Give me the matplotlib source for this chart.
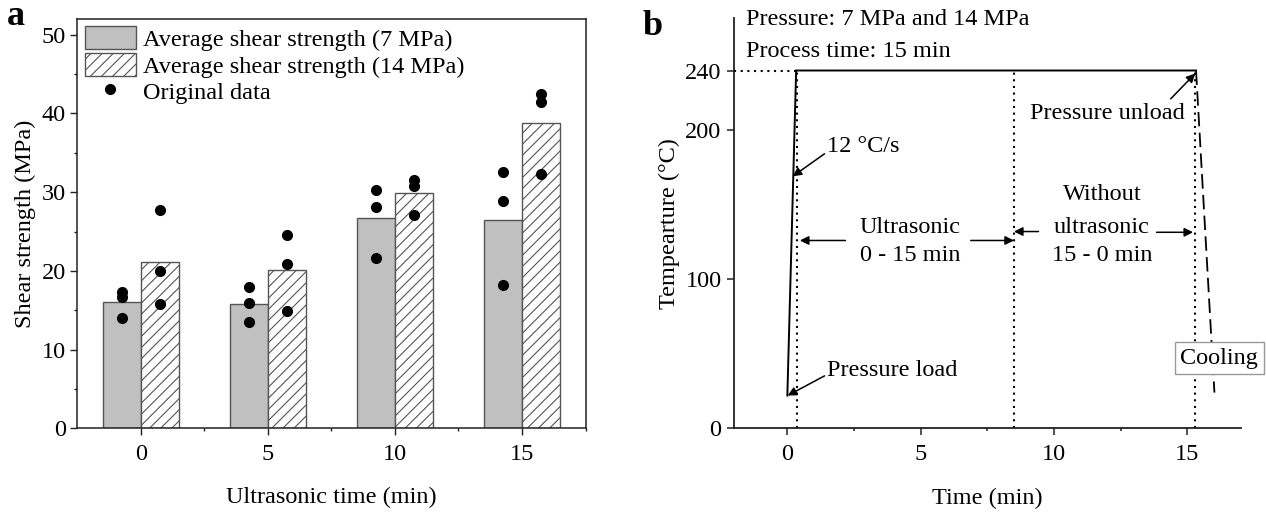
import matplotlib
matplotlib.use("Agg")
import matplotlib.pyplot as plt
import numpy as np
from matplotlib.ticker import MultipleLocator, FixedLocator
from matplotlib.patches import Patch
from matplotlib.lines import Line2D

plt.rcParams["font.family"] = ["Liberation Serif", "DejaVu Serif"]
plt.rcParams["hatch.linewidth"] = 0.8
plt.rcParams["hatch.color"] = "#555555"

FS = 17.5

# ---- panel a data: shear strength vs ultrasonic time ----
ultrasonic_time = [0, 5, 10, 15]
avg_7mpa = [16.0, 15.8, 26.7, 26.5]
avg_14mpa = [21.1, 20.1, 29.9, 38.8]
raw_7mpa = [[17.3, 16.7, 14.0], [17.9, 15.9, 13.5], [30.3, 28.1, 21.7], [32.5, 28.9, 18.2]]
raw_14mpa = [[27.7, 20.0, 15.8], [24.5, 20.9, 14.9], [31.5, 30.8, 27.1], [42.5, 41.5, 32.3]]

# ---- panel b data: temperature profile ----
profile_time = [0.0, 0.33, 15.33]
profile_temp = [22, 240, 240]
cooling_time = [15.33, 16.02]
cooling_temp = [240, 24]
stage_marks = [0.38, 8.5, 15.31]
hold_temp = 240

fig = plt.figure(figsize=(12.66, 5.13), dpi=100)

# ================= panel a =================
axa = fig.add_axes([0.061, 0.165, 0.4015, 0.798])
x = np.array(ultrasonic_time, dtype=float)
off = 0.75
axa.bar(x - off, avg_7mpa, width=1.5, color="#c0c0c0", edgecolor="#555555", lw=1.0, zorder=2)
axa.bar(x + off, avg_14mpa, width=1.5, color="white", edgecolor="#555555", hatch="///", lw=1.0, zorder=2)
for xi, r7, r14 in zip(x, raw_7mpa, raw_14mpa):
    axa.plot([xi - off] * len(r7), r7, "o", color="black", ms=7, zorder=3, clip_on=False)
    axa.plot([xi + off] * len(r14), r14, "o", color="black", ms=7, zorder=3, clip_on=False)

axa.set_xlim(-2.5, 17.5)
axa.set_ylim(0, 52)
axa.xaxis.set_major_locator(FixedLocator([0, 5, 10, 15]))
axa.xaxis.set_minor_locator(FixedLocator([2.5, 7.5, 12.5, 17.5]))
axa.yaxis.set_major_locator(MultipleLocator(10))
axa.yaxis.set_minor_locator(MultipleLocator(5))
axa.tick_params(which="both", direction="out", top=False, right=False, width=1.0, colors="#222222", labelcolor="black")
axa.tick_params(which="major", length=5, labelsize=FS)
axa.tick_params(which="minor", length=2.5)
axa.tick_params(axis="x", pad=6)
axa.tick_params(axis="y", pad=3)
for s in axa.spines.values():
    s.set_linewidth(1.1)
    s.set_color("#222222")
axa.set_xlabel("Ultrasonic time (min)", fontsize=FS, labelpad=16)
axa.set_ylabel("Shear strength (MPa)", fontsize=FS, labelpad=4)

handles = [
    Patch(facecolor="#c0c0c0", edgecolor="#555555", lw=1.0),
    Patch(facecolor="white", edgecolor="#555555", hatch="///", lw=1.0),
    Line2D([], [], marker="o", ls="none", color="black", ms=7),
]
labels = ["Average shear strength (7 MPa)", "Average shear strength (14 MPa)", "Original data"]
axa.legend(handles, labels, loc="upper left", frameon=False, fontsize=FS,
           handlelength=2.1, handleheight=1.07, labelspacing=0.08,
           handletextpad=0.3, borderpad=0.0, borderaxespad=0.3)

# ================= panel b =================
axb = fig.add_axes([0.5798, 0.165, 0.4001, 0.7993])
axb.plot(profile_time, profile_temp, color="black", lw=1.4, solid_joinstyle="miter")
axb.plot(cooling_time, cooling_temp, color="black", lw=1.3, ls=(0, (8, 3.5)))
dot = (0, (1, 2.2))
for xm in stage_marks:
    axb.plot([xm, xm], [0, hold_temp], color="black", lw=1.5, ls=dot)
axb.plot([-2, profile_time[1]], [hold_temp, hold_temp], color="black", lw=1.5, ls=dot, clip_on=False)

axb.set_xlim(-2, 17)
axb.set_ylim(0, 275)
axb.xaxis.set_major_locator(FixedLocator([0, 5, 10, 15]))
axb.xaxis.set_minor_locator(FixedLocator([2.5, 7.5, 12.5]))
axb.yaxis.set_major_locator(FixedLocator([0, 100, 200, 240]))
axb.spines["top"].set_visible(False)
axb.spines["right"].set_visible(False)
for s in ("left", "bottom"):
    axb.spines[s].set_linewidth(1.3)
    axb.spines[s].set_color("#222222")
axb.tick_params(which="both", direction="out", width=1.1, colors="#222222", labelcolor="black")
axb.tick_params(which="major", length=5, labelsize=FS)
axb.tick_params(which="minor", length=2.5)
axb.tick_params(axis="x", pad=6)
axb.tick_params(axis="y", pad=4)
axb.set_xlabel("Time (min)", fontsize=FS, labelpad=17)
axb.set_ylabel("Tempearture (\u00b0C)", fontsize=FS, labelpad=4)

axb.text(-1.56, 274, "Pressure: 7 MPa and 14 MPa", fontsize=FS, ha="left", va="center", clip_on=False)
axb.text(-1.56, 253, "Process time: 15 min", fontsize=FS, ha="left", va="center", clip_on=False)

arrow = dict(arrowstyle="-|>", color="black", lw=1.1, mutation_scale=13, shrinkA=0, shrinkB=0)
axb.annotate("12 \u00b0C/s", xy=(0.2, 169), xytext=(1.5, 189), fontsize=FS,
             ha="left", va="center", arrowprops=dict(arrow, relpos=(0, 0.25)))
axb.annotate("Pressure load", xy=(0.01, 22), xytext=(1.5, 39), fontsize=FS,
             ha="left", va="center", arrowprops=dict(arrow, relpos=(0, 0.3)))
axb.annotate("", xy=(15.3, 238), xytext=(14.38, 221), arrowprops=arrow)
axb.text(11.99, 211, "Pressure unload", fontsize=FS, ha="center", va="center")

axb.text(4.6, 135, "Ultrasonic", fontsize=FS, ha="center", va="center")
axb.text(4.6, 116, "0 - 15 min", fontsize=FS, ha="center", va="center")
axb.annotate("", xy=(0.47, 126), xytext=(2.18, 126), arrowprops=arrow)
axb.annotate("", xy=(8.5, 126), xytext=(6.88, 126), arrowprops=arrow)

axb.text(11.8, 157, "Without", fontsize=FS, ha="center", va="center")
axb.text(11.8, 135, "ultrasonic", fontsize=FS, ha="center", va="center")
axb.text(11.8, 116, "15 - 0 min", fontsize=FS, ha="center", va="center")
axb.annotate("", xy=(8.5, 132), xytext=(9.42, 132), arrowprops=arrow)
axb.annotate("", xy=(15.22, 131.5), xytext=(13.85, 131.5), arrowprops=arrow)

axb.text(16.2, 47, "Cooling", fontsize=FS, ha="center", va="center", clip_on=False,
         bbox=dict(boxstyle="square,pad=0.22", fc="white", ec="#999999", lw=1.0))

# panel letters
fig.text(16 / 1266, 1 - 25 / 513, "a", fontsize=26, fontweight="bold", ha="center", va="baseline")
fig.text(653 / 1266, 1 - 35 / 513, "b", fontsize=26, fontweight="bold", ha="center", va="baseline")

fig.savefig("out.png", dpi=100)
